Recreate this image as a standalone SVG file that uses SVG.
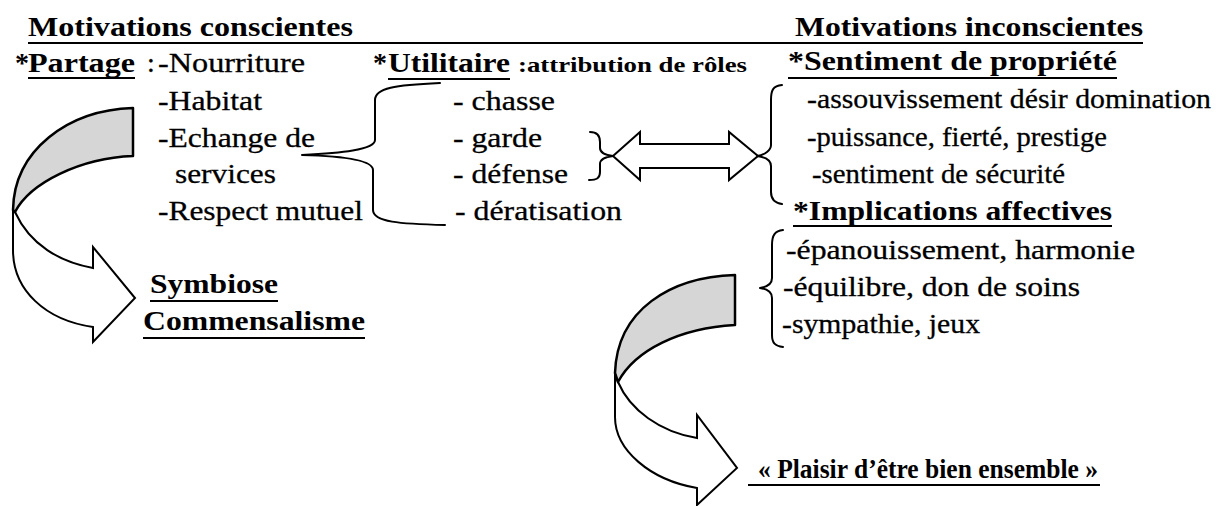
<svg xmlns="http://www.w3.org/2000/svg" width="1218" height="506" viewBox="0 0 1218 506">
<style>
text { font-family: "Liberation Serif", "Times New Roman", serif; fill: #000; }
.r { font-size: 28px; stroke: #000; stroke-width: 0.3; }
.b { font-size: 28px; font-weight: bold; }
.s { font-size: 22px; font-weight: bold; }
.ul { stroke: #000; stroke-width: 2; fill: none; }
.br { fill: none; stroke: #000; stroke-width: 2; stroke-linecap: round; stroke-linejoin: round; }
.shade { fill: #d6d6d6; stroke: #000; stroke-width: 2.5; stroke-linejoin: round; }
.wh { fill: #fff; stroke: #000; stroke-width: 2; stroke-linejoin: miter; }
</style>
<rect width="1218" height="506" fill="#fff"/>

<g id="connectors">
  <path class="br" d="M 440 83 C 395 85, 375 88, 375 100 L 375 140 C 375 150, 340 153, 302 155 C 340 156, 373 160, 373 170 L 373 210 C 373 222, 400 224, 445 225"/>
  <path class="br" d="M 590 132 C 597 132, 600 135, 600 142 L 600 148 C 600 153, 605 155, 613 156 C 605 157, 600 159, 600 164 L 600 172 C 600 178, 597 180, 589 180"/>
  <polygon class="wh" points="613,156 640,132 640,144 729,144 729,132 758,156 729,180 729,168 640,168 640,180"/>
  <path class="br" d="M 782 85 C 773 86, 771 90, 771 100 L 771 145 C 771 150, 765 155, 757 156 C 765 157, 771 160, 771 166 L 771 192 C 771 200, 775 203, 782 204"/>
  <path class="br" d="M 783 230 C 775 231, 772 235, 772 245 L 772 278 C 772 284, 767 287, 760 288 C 767 289, 772 292, 772 298 L 772 335 C 772 343, 775 346, 783 347"/>
  <path class="wh" d="M 15 212 C 30 245, 60 262, 93 268 L 93 247 L 135 298 L 93 342 L 93 327 C 45 320, 13 290, 13 250 L 13 210 Z"/>
  <path class="shade" d="M 133 108 C 68 110, 14 150, 13 210 L 15 212 C 30 183, 80 158, 133 156 Z"/>
  <path class="wh" d="M 618 382 C 630 410, 660 432, 697 438 L 697 415 L 737 468 L 697 505 L 697 488 C 650 480, 615 450, 615 417 L 615 373 Z"/>
  <path class="shade" d="M 735 275 C 670 277, 617 310, 615 373 L 618 382 C 635 350, 680 328, 735 325 Z"/>
</g>

<g id="titles">
  <text class="b" x="28" y="36" textLength="325" lengthAdjust="spacingAndGlyphs">Motivations conscientes</text>
  <text class="b" x="795" y="36" textLength="348" lengthAdjust="spacingAndGlyphs">Motivations inconscientes</text>
  <line class="ul" x1="28" y1="43" x2="1143" y2="43"/>
</g>

<g id="partage">
  <text class="b" x="15" y="72">*</text>
  <text class="b" x="28" y="72" textLength="107" lengthAdjust="spacingAndGlyphs">Partage</text>
  <line class="ul" x1="28" y1="78" x2="135" y2="78"/>
  <text class="r" x="147" y="72">:</text>
  <text class="r" x="158" y="72" textLength="147" lengthAdjust="spacingAndGlyphs">-Nourriture</text>
  <text class="r" x="158" y="110" textLength="104" lengthAdjust="spacingAndGlyphs">-Habitat</text>
  <text class="r" x="158" y="147" textLength="157" lengthAdjust="spacingAndGlyphs">-Echange de</text>
  <text class="r" x="175" y="183" textLength="101" lengthAdjust="spacingAndGlyphs">services</text>
  <text class="r" x="158" y="220" textLength="205" lengthAdjust="spacingAndGlyphs">-Respect mutuel</text>
</g>

<g id="utilitaire">
  <text class="b" x="373" y="72">*</text>
  <text class="b" x="388" y="72" textLength="122" lengthAdjust="spacingAndGlyphs">Utilitaire</text>
  <line class="ul" x1="388" y1="79" x2="510" y2="79"/>
  <text class="s" x="518" y="72" textLength="229" lengthAdjust="spacingAndGlyphs">:attribution de rôles</text>
  <text class="r" x="453" y="110" textLength="102" lengthAdjust="spacingAndGlyphs">- chasse</text>
  <text class="r" x="453" y="147" textLength="89" lengthAdjust="spacingAndGlyphs">- garde</text>
  <text class="r" x="453" y="183" textLength="115" lengthAdjust="spacingAndGlyphs">- défense</text>
  <text class="r" x="455" y="220" textLength="167" lengthAdjust="spacingAndGlyphs">- dératisation</text>
</g>

<g id="sentiment">
  <text class="b" x="788" y="70" textLength="329" lengthAdjust="spacingAndGlyphs">*Sentiment de propriété</text>
  <line class="ul" x1="788" y1="78" x2="1117" y2="78"/>
  <text class="r" x="807" y="108" textLength="404" lengthAdjust="spacingAndGlyphs">-assouvissement désir domination</text>
  <text class="r" x="807" y="146" textLength="300" lengthAdjust="spacingAndGlyphs">-puissance, fierté, prestige</text>
  <text class="r" x="812" y="183" textLength="253" lengthAdjust="spacingAndGlyphs">-sentiment de sécurité</text>
</g>

<g id="implications">
  <text class="b" x="793" y="220" textLength="319" lengthAdjust="spacingAndGlyphs">*Implications affectives</text>
  <line class="ul" x1="793" y1="226" x2="1112" y2="226"/>
  <text class="r" x="786" y="259" textLength="349" lengthAdjust="spacingAndGlyphs">-épanouissement, harmonie</text>
  <text class="r" x="783" y="296" textLength="297" lengthAdjust="spacingAndGlyphs">-équilibre, don de soins</text>
  <text class="r" x="782" y="333" textLength="198" lengthAdjust="spacingAndGlyphs">-sympathie, jeux</text>
</g>

<g id="symbiose">
  <text class="b" x="150" y="293" textLength="128" lengthAdjust="spacingAndGlyphs">Symbiose</text>
  <line class="ul" x1="150" y1="301" x2="278" y2="301"/>
  <text class="b" x="143" y="330" textLength="222" lengthAdjust="spacingAndGlyphs">Commensalisme</text>
  <line class="ul" x1="143" y1="338" x2="365" y2="338"/>
</g>

<g id="plaisir">
  <text class="b" x="758" y="478" textLength="340" lengthAdjust="spacingAndGlyphs">« Plaisir d’être bien ensemble »</text>
  <line class="ul" x1="748" y1="485" x2="1100" y2="485"/>
</g>
</svg>
